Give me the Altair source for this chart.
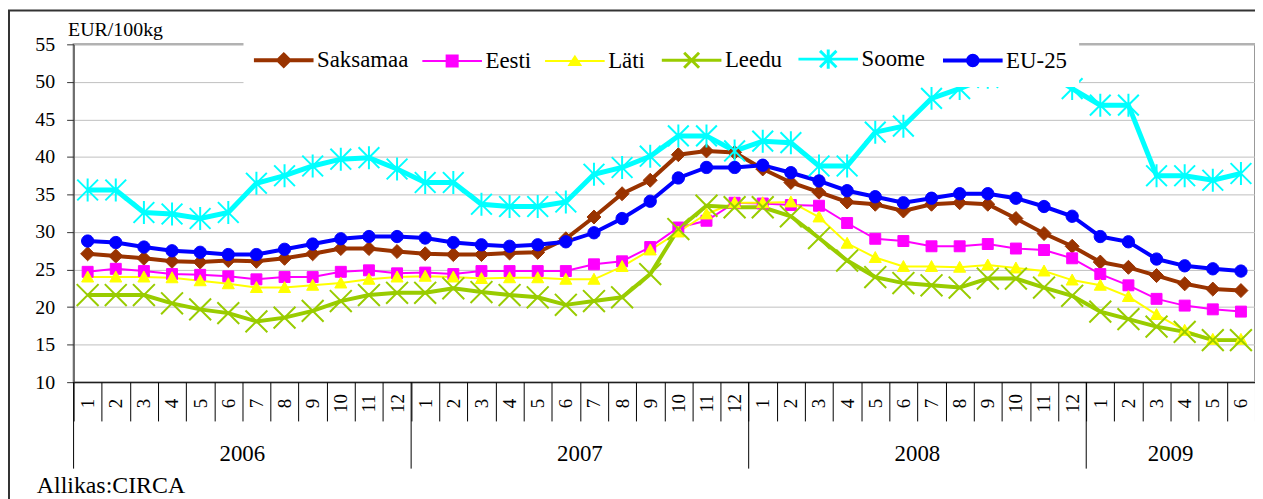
import altair as alt
import pandas as pd

# ---------------- data ----------------
years = ["2006"] * 12 + ["2007"] * 12 + ["2008"] * 12 + ["2009"] * 6
months = list(range(1, 13)) * 3 + list(range(1, 7))

series_names = ["Saksamaa", "Eesti", "Läti", "Leedu", "Soome", "EU-25"]

saksamaa = [27.1, 26.8, 26.5, 26.1, 26.0, 26.2, 26.1, 26.5, 27.1, 27.8, 27.8, 27.4,
            27.1, 27.0, 27.0, 27.2, 27.3, 29.1, 32.0, 35.1, 36.9, 40.3, 40.8, 40.6,
            38.4, 36.6, 35.3, 34.0, 33.7, 32.8, 33.7, 33.9, 33.7, 31.8, 29.8, 28.1,
            26.0, 25.3, 24.2, 23.1, 22.4, 22.2]
eesti = [24.7, 25.1, 24.8, 24.4, 24.3, 24.1, 23.7, 24.0, 24.0, 24.7, 24.9, 24.5,
         24.6, 24.4, 24.8, 24.8, 24.8, 24.8, 25.7, 26.1, 28.0, 30.6, 31.5, 33.9,
         33.8, 33.6, 33.5, 31.2, 29.1, 28.8, 28.1, 28.1, 28.4, 27.8, 27.6, 26.5,
         24.4, 22.9, 21.1, 20.2, 19.7, 19.4]
lati = [24.0, 24.0, 24.0, 23.9, 23.5, 23.1, 22.6, 22.6, 22.9, 23.2, 23.7, 24.0,
        24.1, 24.0, 23.8, 23.9, 23.9, 23.7, 23.7, 25.4, 27.6, 30.0, 32.4, 33.9,
        33.9, 34.0, 32.0, 28.5, 26.6, 25.4, 25.4, 25.3, 25.6, 25.2, 24.8, 23.6,
        22.9, 21.4, 19.0, 16.9, 15.7, 15.7]
leedu = [21.6, 21.6, 21.6, 20.5, 19.7, 19.2, 18.1, 18.6, 19.5, 20.8, 21.6, 21.9,
         21.9, 22.5, 22.0, 21.6, 21.3, 20.3, 20.8, 21.3, 24.4, 30.4, 33.5, 33.3,
         33.3, 32.1, 29.2, 26.2, 24.0, 23.2, 22.9, 22.6, 23.8, 23.8, 22.6, 21.5,
         19.4, 18.4, 17.4, 16.7, 15.6, 15.6]
soome = [35.6, 35.6, 32.6, 32.4, 31.8, 32.6, 36.5, 37.5, 38.8, 39.7, 39.9, 38.4,
         36.6, 36.6, 33.7, 33.4, 33.4, 34.0, 37.7, 38.6, 40.1, 42.8, 42.8, 40.8,
         42.1, 41.9, 38.8, 38.8, 43.3, 44.1, 47.8, 49.1, 50.6, 51.5, 51.5, 49.1,
         46.9, 46.9, 37.5, 37.5, 36.9, 37.8]
eu25 = [28.8, 28.6, 28.0, 27.5, 27.3, 27.0, 27.0, 27.7, 28.4, 29.1, 29.4, 29.4,
        29.2, 28.6, 28.3, 28.1, 28.3, 28.7, 29.9, 31.8, 34.1, 37.2, 38.6, 38.6,
        38.9, 37.9, 36.8, 35.5, 34.7, 33.9, 34.5, 35.1, 35.1, 34.5, 33.4, 32.1,
        29.4, 28.7, 26.4, 25.5, 25.1, 24.8]

y_ticks = [10, 15, 20, 25, 30, 35, 40, 45, 50, 55]
source_label = ["Allikas:CIRCA"]

# ---------------- styles ----------------
colors = ["#993300", "#FF00FF", "#FFFF00", "#99CC00", "#00FFFF", "#0000FF"]
marker_paths = [
    "M0,-0.64L0.64,0L0,0.64L-0.64,0Z",
    "M-0.5,-0.5H0.5V0.5H-0.5Z",
    "M0,-0.55L0.55,0.45L-0.55,0.45Z",
    "M-1,-1L1,1M-1,1L1,-1",
    "M-0.95,-0.95L0.95,0.95M-0.95,0.95L0.95,-0.95M0,-1.05V1.05",
    "M0.56,0C0.56,0.31,0.31,0.56,0,0.56C-0.31,0.56,-0.56,0.31,-0.56,0"
    "C-0.56,-0.31,-0.31,-0.56,0,-0.56C0.31,-0.56,0.56,-0.31,0.56,0Z",
]
legend_paths = [
    "M-2,0H2M0,-0.37L0.37,0L0,0.37L-0.37,0Z",
    "M-2,0H2M-0.37,-0.37H0.37V0.37H-0.37Z",
    "M-2,0H2M0,-0.3L0.37,0.27L-0.37,0.27Z",
    "M-2,0H2M-0.5,-0.5L0.5,0.5M-0.5,0.5L0.5,-0.5",
    "M-2,0H2M-0.55,-0.55L0.55,0.55M-0.55,0.55L0.55,-0.55M0,-0.65V0.65",
    "M-2,0H2M0.32,0C0.32,0.177,0.177,0.32,0,0.32C-0.177,0.32,-0.32,0.177,-0.32,0"
    "C-0.32,-0.177,-0.177,-0.32,0,-0.32C0.177,-0.32,0.32,-0.177,0.32,0Z",
]
FONT = "Liberation Serif"

# ---------------- tables ----------------
keys = [f"{y}-{m}" for y, m in zip(years, months)]
rows = []
for name, vals in zip(series_names, [saksamaa, eesti, lati, leedu, soome, eu25]):
    for k, v in zip(keys, vals):
        rows.append({"series": name, "key": k, "value": v})
df = pd.DataFrame(rows)

year_rows = []
for yr in dict.fromkeys(years):
    idx = [i for i, y in enumerate(years) if y == yr]
    year_rows.append({"year": yr, "start": keys[idx[0]], "mid": keys[idx[0] + len(idx) // 2]})
df_year = pd.DataFrame(year_rows)
df_src = pd.DataFrame({"label": source_label})
df_one = pd.DataFrame({"a": [0]})

# ---------------- scales / axes ----------------
x_scale = alt.Scale(type="band", domain=keys, paddingInner=0, paddingOuter=0)
x_axis = alt.Axis(
    title=None, orient="bottom", tickBand="extent", tickSize=39, tickColor="black",
    domainColor="black", labelExpr="split(datum.value, '-')[1]", labelAngle=270,
    labelAlign="center", labelBaseline="middle", labelPadding=-18, labelFontSize=19,
    labelFont=FONT, labelColor="black", labelOverlap=False, grid=False,
)
y_scale = alt.Scale(domain=[10, 55], nice=False, zero=False)
y_axis = alt.Axis(
    values=y_ticks, title="EUR/100kg", titleAngle=0, titleX=-6, titleY=-9,
    titleAlign="left", titleBaseline="alphabetic", titleFont=FONT, titleFontSize=20,
    titleFontWeight="normal", titleColor="black", labelFont=FONT, labelFontSize=20,
    labelColor="black", labelPadding=12, tickSize=7, tickColor="#333333",
    domainColor="#333333", grid=True, gridColor="#c0c0c0", gridWidth=1,
)

X = alt.X("key:O", scale=x_scale, axis=x_axis)
Y = alt.Y("value:Q", scale=y_scale, axis=y_axis)
color_scale = alt.Scale(domain=series_names, range=colors)

base = alt.Chart(df)

lines = base.mark_line().encode(
    x=X, y=Y,
    stroke=alt.Stroke("series:N", scale=color_scale, legend=None),
    strokeWidth={
        "condition": [
            {"test": "datum.series === 'Eesti' || datum.series === 'Läti'", "value": 2},
            {"test": "datum.series === 'Soome'", "value": 5},
        ],
        "value": 4,
    },
)

points = base.mark_point(filled=True, opacity=1, size=484).encode(
    x=X, y=Y,
    shape=alt.Shape("series:N", scale=alt.Scale(domain=series_names, range=marker_paths), legend=None),
    fill=alt.Fill("series:N", scale=color_scale, legend=None),
    stroke=alt.Stroke("series:N", scale=color_scale, legend=None),
    strokeWidth=alt.condition("datum.series === 'Leedu' || datum.series === 'Soome'",
                              alt.value(2), alt.value(1)),
)

leg = alt.Legend(
    title=None, orient="none", legendX=171, legendY=-9, direction="horizontal",
    fillColor="white", padding=12, labelFont=FONT, labelFontSize=23, labelColor="black",
    symbolSize=900, symbolOffset=17, labelOffset=22, columnPadding=9.5,
    symbolOpacity=1, labelLimit=400,
    symbolStrokeWidth=alt.ExprRef(
        "indexof(['Eesti','Läti'], datum.value) >= 0 ? 2 : (indexof(['Leedu','Soome'], datum.value) >= 0 ? 3 : 4)"
    ),
)
legend_layer = base.mark_point(filled=True, opacity=0).encode(
    x=X, y=Y,
    shape=alt.Shape("series:N", scale=alt.Scale(domain=series_names, range=legend_paths), legend=leg),
    fill=alt.Fill("series:N", scale=color_scale, legend=leg),
    stroke=alt.Stroke("series:N", scale=color_scale, legend=leg),
)

year_rules = alt.Chart(df_year).mark_rule(color="black", strokeWidth=1).encode(
    x=alt.X("start:O", bandPosition=0, scale=x_scale, axis=x_axis),
    y=alt.value(340), y2=alt.value(427),
)
year_text = alt.Chart(df_year).mark_text(
    font=FONT, fontSize=23, color="black", align="center", baseline="alphabetic"
).encode(
    x=alt.X("mid:O", bandPosition=0, scale=x_scale, axis=x_axis),
    y=alt.value(419), text="year:N",
)
source_text = alt.Chart(df_src).mark_text(
    font=FONT, fontSize=24, color="black", align="left", baseline="alphabetic"
).encode(x=alt.value(-37), y=alt.value(452), text="label:N")

border = alt.Chart(df_one).mark_rect(fillOpacity=0, stroke="#333333", strokeWidth=2).encode(
    x=alt.value(-65), x2=alt.value(1215), y=alt.value(-34), y2=alt.value(480)
)

chart = alt.layer(
    lines, points, legend_layer, year_rules, year_text, source_text, border
).resolve_scale(
    shape="independent", fill="independent", stroke="independent"
).properties(
    width=1189, height=340,
    padding={"left": 66, "top": 35, "right": 0, "bottom": 116},
    autosize=alt.AutoSizeParams(type="none"),
    background="white",
).configure(font=FONT).configure_view(stroke="#999999", strokeWidth=2)

chart.save("out.html", embed_options={"renderer": "svg", "actions": False})
